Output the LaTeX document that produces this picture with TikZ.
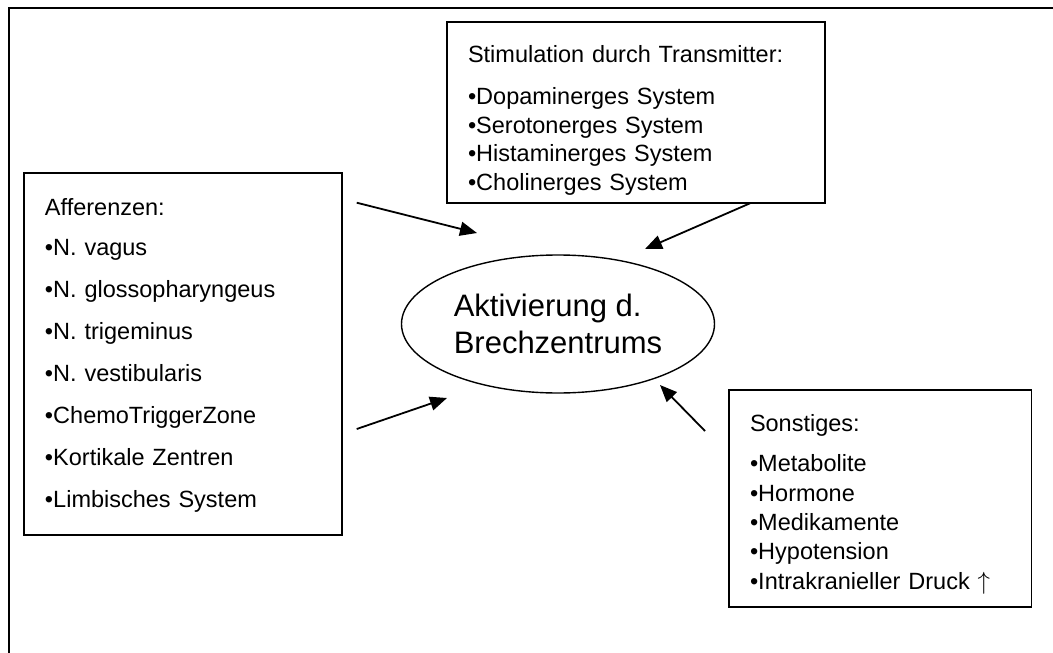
\documentclass[tikz,border=0pt]{standalone}
\usepackage{fontspec}
\setmainfont{Liberation Sans}
\usetikzlibrary{arrows.meta,positioning,shapes.geometric}

\begin{document}
\begin{tikzpicture}[
 x=1pt,y=-1pt,
 lst/.style={draw=black,line width=1.8pt,rectangle,inner sep=0pt,align=left},
 ctr/.style={draw=black,line width=1.4pt,ellipse,inner sep=0pt,minimum width=313pt,minimum height=138pt,align=left,font=\fontsize{31}{37}\selectfont},
 a/.style={-{Triangle[length=17pt,width=14pt]},line width=1.8pt}
]
\useasboundingbox (0,0) rectangle (1053,653);
\draw[line width=2.2pt] (1053,8) -- (9,8) -- (9,653);
\node[lst,minimum width=318pt,minimum height=362pt,text width=276pt,text height=17pt,text depth=295pt,font=\fontsize{23.5}{42}\selectfont] (aff) at (183,354) {Afferenzen:\\[-2pt]•N. vagus\\•N. glossopharyngeus\\•N. trigeminus\\•N. vestibularis\\•ChemoTriggerZone\\•Kortikale Zentren\\•Limbisches System};
\node[lst,minimum width=378pt,minimum height=181pt,text width=336pt,text height=17pt,text depth=118pt,font=\fontsize{23.5}{29}\selectfont] (trans) at (636,112.5) {Stimulation durch Transmitter:\\[13pt]•Dopaminerges System\\•Serotonerges System\\•Histaminerges System\\•Cholinerges System};
\node[lst,minimum width=302.5pt,minimum height=217pt,text width=260.5pt,text height=17pt,text depth=150.8pt,font=\fontsize{23.5}{29.4}\selectfont] (sonst) at (880.25,498.5) {Sonstiges:\\[10.6pt]•Metabolite\\•Hormone\\•Medikamente\\•Hypotension\\•Intrakranieller Druck $\uparrow$};
\node[ctr] (zentrum) at (558,324) {Aktivierung d.\\Brechzentrums};
\coordinate (aff1) at (356.7,202.7);\coordinate (z1) at (477,233);
\coordinate (aff2) at (356.7,429);\coordinate (z2) at (447,398);
\coordinate (trans1) at (750,203.3);\coordinate (z3) at (645,249);
\coordinate (sonst1) at (705,431);\coordinate (z4) at (660,385);
\draw[a] (aff1)--(z1);\draw[a] (aff2)--(z2);\draw[a] (trans1)--(z3);\draw[a] (sonst1)--(z4);
\end{tikzpicture}
\end{document}
